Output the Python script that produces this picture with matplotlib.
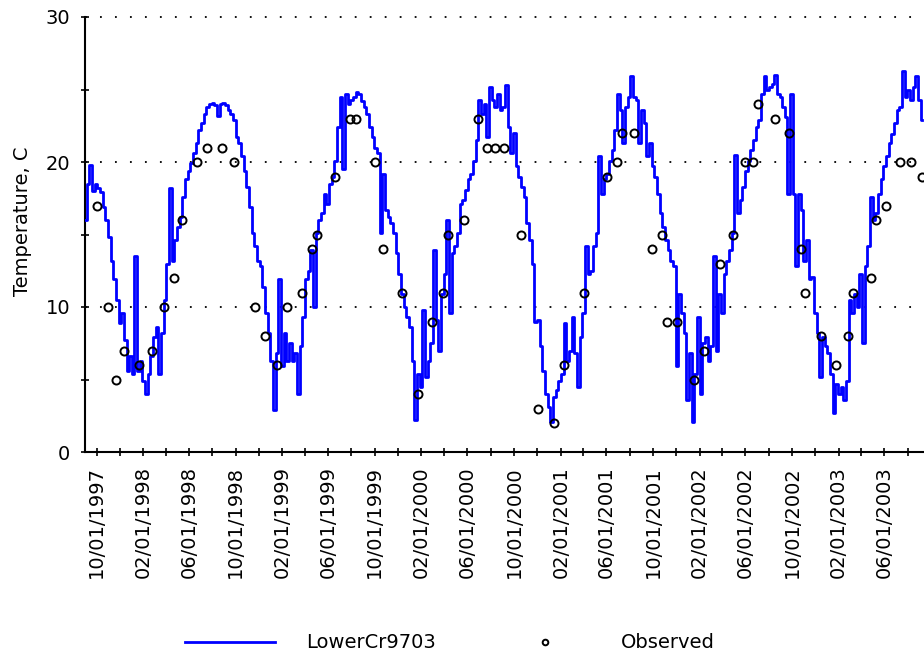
import matplotlib
matplotlib.use("Agg")
import matplotlib.pyplot as plt
import matplotlib.dates as mdates
from matplotlib.ticker import MultipleLocator
import pandas as pd
from datetime import datetime

# Simulated water temperature (LowerCr9703), weekly values starting 1997-09-01
sim_start = "1997-09-01"
sim_step = "7D"
sim_values = [
    16.0, 18.5, 19.8, 18.0, 18.5, 18.2, 17.9, 16.9, 16.0, 14.8,
    13.2, 11.9, 10.5, 8.9, 9.6, 7.7, 5.6, 6.6, 5.4, 13.5,
    5.6, 6.3, 4.9, 4.0, 5.4, 6.6, 7.9, 8.6, 5.4, 8.2,
    10.5, 13.0, 18.2, 13.2, 14.6, 15.5, 16.2, 17.6, 18.8, 19.4,
    19.9, 20.6, 21.3, 22.2, 22.7, 23.3, 23.8, 24.0, 24.1, 23.9,
    23.2, 24.0, 24.1, 23.9, 23.6, 23.3, 22.9, 21.7, 21.3, 20.4,
    19.4, 18.3, 16.9, 15.1, 14.2, 13.2, 12.8, 11.4, 9.6, 8.2,
    6.3, 2.9, 6.8, 11.9, 5.9, 8.2, 6.3, 7.5, 6.3, 6.8,
    4.0, 7.3, 9.3, 11.9, 12.5, 13.9, 10.0, 15.1, 16.0, 16.5,
    17.8, 17.1, 18.5, 19.0, 20.1, 22.4, 24.5, 19.5, 24.7, 24.0,
    24.3, 24.5, 24.8, 24.7, 24.2, 23.8, 23.3, 22.4, 21.7, 21.0,
    20.6, 15.1, 19.2, 16.7, 16.2, 15.8, 15.1, 13.7, 12.3, 10.9,
    10.0, 9.3, 8.6, 6.3, 2.2, 5.4, 4.5, 9.8, 5.2, 6.3,
    7.5, 13.9, 9.1, 7.0, 10.9, 12.3, 16.0, 9.6, 13.7, 14.2,
    15.1, 17.1, 17.4, 18.1, 18.8, 19.2, 20.1, 21.5, 24.3, 23.3,
    24.0, 21.7, 25.2, 24.3, 23.8, 24.7, 23.6, 23.8, 25.3, 22.4,
    20.6, 22.0, 19.7, 19.0, 18.3, 17.6, 15.8, 14.6, 13.0, 9.0,
    9.1, 7.3, 5.6, 4.0, 3.1, 2.1, 3.8, 4.3, 4.9, 5.4,
    8.9, 6.3, 7.0, 9.3, 6.8, 4.5, 7.9, 9.6, 14.2, 12.3,
    12.5, 14.2, 15.1, 20.4, 17.8, 18.8, 19.2, 20.1, 20.8, 22.2,
    24.7, 23.6, 21.3, 23.8, 24.5, 25.9, 24.5, 24.3, 21.3, 23.6,
    22.7, 20.4, 21.3, 19.7, 19.0, 17.8, 16.5, 15.5, 14.6, 13.9,
    13.2, 12.8, 5.9, 10.9, 9.6, 8.2, 3.6, 6.8, 2.1, 5.4,
    9.3, 4.0, 7.5, 7.9, 6.3, 7.3, 13.5, 7.0, 10.9, 9.6,
    12.3, 13.2, 13.9, 15.1, 20.5, 16.5, 17.4, 18.3, 19.4, 20.1,
    20.8, 21.5, 22.4, 22.9, 24.7, 25.9, 25.0, 25.2, 25.4, 26.0,
    24.7, 24.5, 23.8, 23.1, 17.8, 24.7, 17.8, 12.8, 17.8, 16.7,
    13.2, 14.6, 11.9, 12.1, 9.6, 8.2, 5.2, 7.9, 7.3, 6.8,
    5.4, 2.7, 4.7, 4.0, 4.5, 3.6, 4.9, 10.5, 9.6, 10.9,
    10.0, 12.3, 7.5, 12.8, 14.2, 17.6, 16.0, 16.5, 17.8, 18.8,
    19.7, 20.4, 21.3, 21.9, 22.7, 23.6, 23.8, 26.3, 24.5, 25.0,
    24.3, 25.2, 25.9, 24.3, 22.9,
]

# Observed grab samples
obs_dates = [
    "1997-10-01", "1997-11-01", "1997-11-21", "1997-12-11", "1998-01-20",
    "1998-02-23", "1998-03-27", "1998-04-22", "1998-05-13", "1998-06-22",
    "1998-07-19", "1998-08-25", "1998-09-28", "1998-11-20", "1998-12-16",
    "1999-01-18", "1999-02-13", "1999-03-24", "1999-04-20", "1999-05-04",
    "1999-06-20", "1999-07-28", "1999-08-12", "1999-10-03", "1999-10-23",
    "1999-12-12", "2000-01-23", "2000-03-01", "2000-03-29", "2000-04-11",
    "2000-05-22", "2000-06-29", "2000-07-23", "2000-08-12", "2000-09-04",
    "2000-10-19", "2000-12-03", "2001-01-14", "2001-02-10", "2001-04-03",
    "2001-06-03", "2001-06-29", "2001-07-12", "2001-08-13", "2001-09-29",
    "2001-10-24", "2001-11-07", "2001-12-04", "2002-01-17", "2002-02-13",
    "2002-03-26", "2002-04-30", "2002-05-30", "2002-06-21", "2002-07-03",
    "2002-08-17", "2002-09-23", "2002-10-25", "2002-11-04", "2002-12-16",
    "2003-01-25", "2003-02-26", "2003-03-11", "2003-04-27", "2003-05-11",
    "2003-06-05", "2003-07-12", "2003-08-11", "2003-09-08",
]
obs_values = [
    17, 10, 5, 7, 6,
    7, 10, 12, 16, 20,
    21, 21, 20, 10, 8,
    6, 10, 11, 14, 15,
    19, 23, 23, 20, 14,
    11, 4, 9, 11, 15,
    16, 23, 21, 21, 21,
    15, 3, 2, 6, 11,
    19, 20, 22, 22, 14,
    15, 9, 9, 5, 7,
    13, 15, 20, 20, 24,
    23, 22, 14, 11, 8,
    6, 8, 11, 12, 16,
    17, 20, 20, 19,
]

y_ticks = [0, 10, 20, 30]
series_labels = ["LowerCr9703", "Observed"]

plt.rcParams["font.family"] = ["DejaVu Sans"]
plt.rcParams["lines.scale_dashes"] = True

W, H = 924, 660
fig = plt.figure(figsize=(W / 100, H / 100), dpi=100)
ax = fig.add_axes([85 / W, 1 - 452 / H, 1 - 85 / W, (452 - 17) / H])

sim_dates = pd.date_range(sim_start, periods=len(sim_values), freq=sim_step)
obs_dt = pd.to_datetime(obs_dates)

line, = ax.plot(sim_dates, sim_values, color="#0000ff", lw=2.0,
                drawstyle="steps-mid", zorder=3, label=series_labels[0])
pts, = ax.plot(obs_dt, obs_values, linestyle="none", marker="o",
               mfc="none", mec="black", ms=5.8, mew=1.4, zorder=4,
               label=series_labels[1])

ax.set_xlim(datetime(1997, 8, 31, 12), datetime(2003, 9, 13))
ax.set_ylim(min(y_ticks), max(y_ticks))

ax.yaxis.set_major_locator(MultipleLocator(10))
ax.yaxis.set_minor_locator(MultipleLocator(5))
ax.set_yticks(y_ticks)
ax.xaxis.set_major_locator(mdates.MonthLocator(bymonth=[2, 6, 10]))
ax.xaxis.set_minor_locator(mdates.MonthLocator(bymonth=[4, 8, 12]))
ax.xaxis.set_major_formatter(mdates.DateFormatter("%m/%d/%Y"))

for side in ("top", "right"):
    ax.spines[side].set_visible(False)
for side in ("left", "bottom"):
    ax.spines[side].set_linewidth(1.5)
    ax.spines[side].set_color("black")

ax.tick_params(axis="both", which="both", direction="inout", length=6,
               width=1.2, color="black", labelsize=14)
ax.tick_params(axis="y", which="major", pad=7.8)
ax.tick_params(axis="x", which="major", pad=7, labelrotation=90)

ax.set_axisbelow(True)
ax.yaxis.grid(True, which="major", color="black", lw=1.3,
              linestyle=(0, (1, 7.3)))
for gl in ax.get_ygridlines():
    gl.set_clip_on(False)

fig.text(23 / W, 1 - 221 / H, "Temperature, C", rotation=90,
         ha="center", va="center", fontsize=14)

fig.legend([line, pts], series_labels, loc="center left",
           bbox_to_anchor=(185 / W, 1 - 643 / H), ncol=2, frameon=False,
           handlelength=4.63, handletextpad=1.6, columnspacing=3.3,
           borderpad=0, borderaxespad=0, fontsize=14, markerscale=0.7)

fig.savefig("out.png", dpi=100)
